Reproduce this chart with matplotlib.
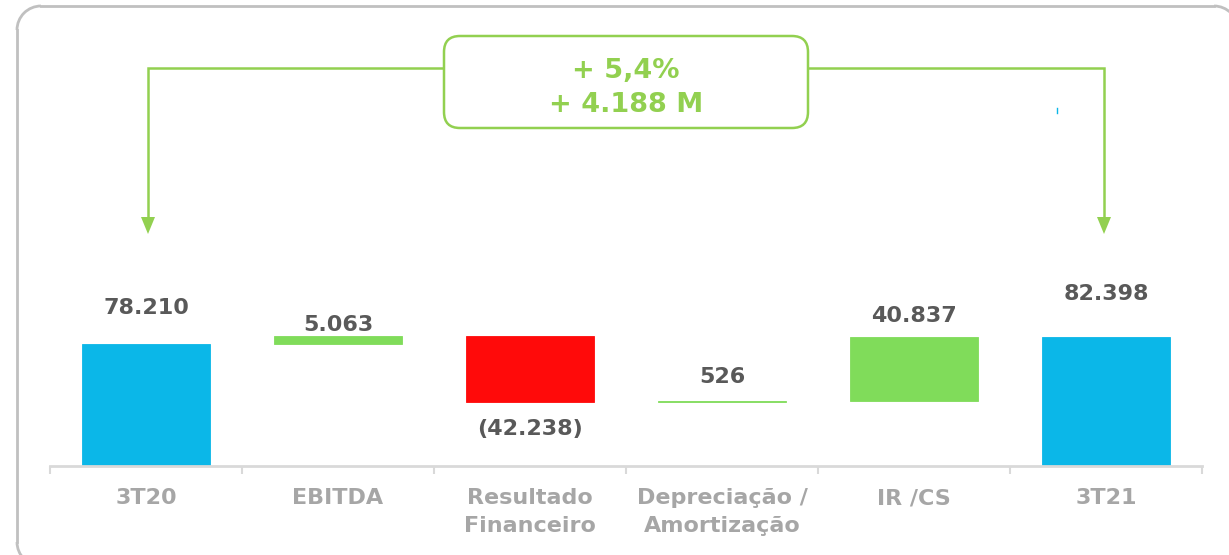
import matplotlib.pyplot as plt
from matplotlib.patches import FancyBboxPatch, Polygon, Arc

# values (R$ mil)
categories = ['3T20', 'EBITDA', 'Resultado\nFinanceiro', 'Depreciação /\nAmortização', 'IR /CS', '3T21']
changes = [78210, 5063, -42238, 526, 40837, 82398]
value_labels = ['78.210', '5.063', '(42.238)', '526', '40.837', '82.398']
is_total = [True, False, False, False, False, True]
delta_text = '+ 5,4%\n+ 4.188 M'

blue = '#0BB7E8'
green = '#80DC5A'
red = '#FF0A0A'
line_green = '#92D050'

# waterfall bottoms
bottoms = []
heights = []
colors = []
running = 0
for val, total in zip(changes, is_total):
    if total:
        bottoms.append(0)
        heights.append(val)
        colors.append(blue)
        running = val
    else:
        if val >= 0:
            bottoms.append(running)
            colors.append(green)
        else:
            bottoms.append(running + val)
            colors.append(red)
        heights.append(abs(val))
        running += val

fig = plt.figure(figsize=(12.29, 5.55), dpi=100)
W, H = 1229, 555


def py(v):
    # pixel row (from top) -> overlay y
    return H - v


# overlay in pixel coords for frame / bracket
ov = fig.add_axes([0, 0, 1, 1], zorder=3)
ov.set_xlim(0, W)
ov.set_ylim(0, H)
ov.axis('off')
ov.patch.set_alpha(0)

# outer rounded frame, drawn as lines + corner arcs
fl, fr, ft, fb, rr = 17, 1238, 6, 566, 24
fc = '#c0c0c0'
ov.plot([fl + rr, fr - rr], [py(ft), py(ft)], color=fc, lw=2, clip_on=False)
ov.plot([fl + rr, fr - rr], [py(fb), py(fb)], color=fc, lw=2, clip_on=False)
ov.plot([fl, fl], [py(ft + rr), py(fb - rr)], color=fc, lw=2, clip_on=False)
ov.plot([fr, fr], [py(ft + rr), py(fb - rr)], color=fc, lw=2, clip_on=False)
for cx, cy, a1 in [(fl + rr, ft + rr, 90), (fr - rr, ft + rr, 0),
                   (fr - rr, fb - rr, 270), (fl + rr, fb - rr, 180)]:
    ov.add_patch(Arc((cx, py(cy)), 2 * rr, 2 * rr, theta1=a1, theta2=a1 + 90,
                     color=fc, lw=2, clip_on=False))

base = 466
ax = fig.add_axes([50 / W, (H - base) / H, 1152 / W, base / H])
ax.set_xlim(-0.5, 5.5)
ax.set_ylim(0, base / 1.56 * 1000)

x = range(len(categories))
ax.bar(x, heights, bottom=bottoms, width=0.667, color=colors,
       edgecolor=colors, linewidth=0.6)

# value labels
offsets = [19, 1, -12, 10, 8, 24]
for i in x:
    if changes[i] >= 0 or is_total[i]:
        y = bottoms[i] + heights[i]
        va = 'bottom'
    else:
        y = bottoms[i]
        va = 'top'
    ax.annotate(value_labels[i], (i, y), xytext=(0, offsets[i]),
                textcoords='offset points', ha='center', va=va,
                fontsize=16, fontweight='bold', color='#595959')

for s in ['top', 'right', 'left']:
    ax.spines[s].set_visible(False)
ax.spines['bottom'].set_color('#d9d9d9')
ax.spines['bottom'].set_linewidth(2)
ax.set_yticks([])
ax.set_xticks(list(x))
ax.set_xticklabels(categories, fontsize=16, fontweight='bold', color='#a6a6a6',
                   linespacing=1.5, va='top')
ax.tick_params(axis='x', which='major', length=0, pad=16)
ax.set_xticks([i - 0.5 for i in range(len(categories) + 1)], minor=True)
ax.tick_params(axis='x', which='minor', length=6, width=1.5, color='#d9d9d9')

# bracket with arrows (pixel coords)
box_l, box_r, box_t, box_b = 444, 808, 36, 128
line_y = 68
ov.plot([148, 148, box_l], [py(218), py(line_y), py(line_y)], color=line_green, lw=1.8,
        solid_capstyle='butt', solid_joinstyle='miter')
ov.plot([box_r, 1104, 1104], [py(line_y), py(line_y), py(218)], color=line_green, lw=1.8,
        solid_capstyle='butt', solid_joinstyle='miter')
for xa in [148, 1104]:
    ov.add_patch(Polygon([[xa - 7, py(217)], [xa + 7, py(217)], [xa, py(234)]],
                         closed=True, color=line_green, lw=0))
ov.add_patch(FancyBboxPatch((box_l, py(box_b)), box_r - box_l, box_b - box_t,
                            boxstyle='round,pad=0,rounding_size=16',
                            facecolor='white', edgecolor=line_green, linewidth=1.8))
ov.text((box_l + box_r) / 2, py(88), delta_text, ha='center',
        va='center', fontsize=19.5, fontweight='bold', color=line_green, linespacing=1.35)
# small stray blue tick seen on the slide
ov.plot([1057, 1057], [py(108), py(113)], color=blue, lw=1)

plt.savefig('out.png', dpi=100)
